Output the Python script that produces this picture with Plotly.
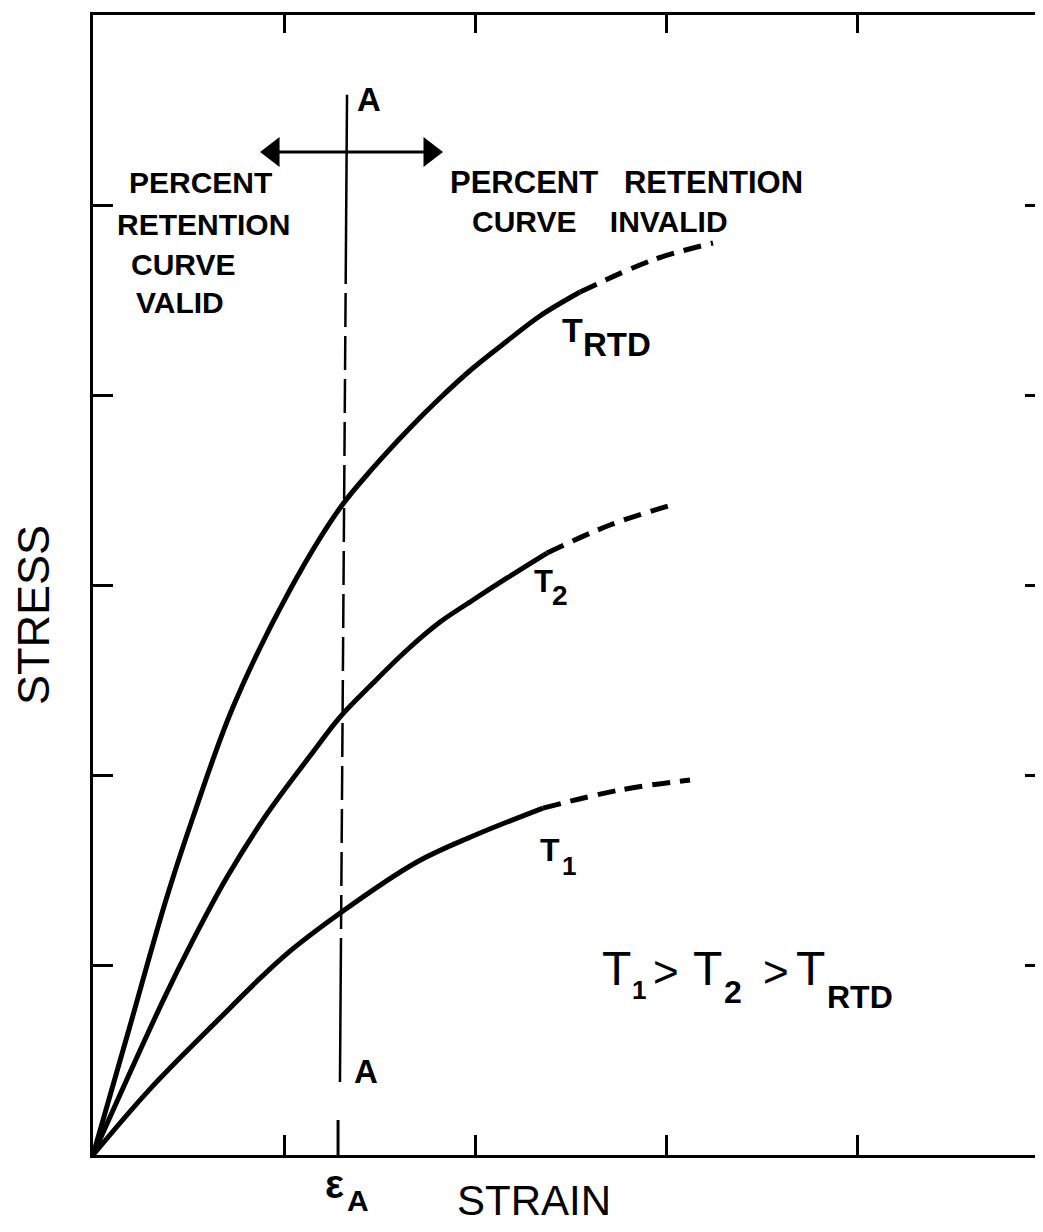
import plotly.graph_objects as go

# ---------------- data ----------------
# T_RTD curve: solid (valid) part and dashed extension
rtd_strain = [0.0, 0.183, 0.382, 0.524, 0.733, 1.031, 1.293, 1.466, 1.644, 1.817, 1.990, 2.168, 2.340, 2.550]
rtd_stress = [0.0, 0.642, 1.342, 1.779, 2.358, 2.974, 3.405, 3.616, 3.811, 3.984, 4.142, 4.284, 4.416, 4.542]
rtd_ext_strain = [2.550, 2.932, 3.246]
rtd_ext_stress = [4.542, 4.711, 4.800]

# T2 curve
t2_strain = [0.0, 0.366, 0.524, 0.702, 0.911, 1.136, 1.293, 1.466, 1.644, 1.817, 1.990, 2.168, 2.377]
t2_stress = [0.0, 0.811, 1.132, 1.463, 1.795, 2.100, 2.305, 2.484, 2.658, 2.805, 2.921, 3.037, 3.168]
t2_ext_strain = [2.377, 2.707, 3.031]
t2_ext_stress = [3.168, 3.316, 3.421]

# T1 curve
t1_strain = [0.0, 0.298, 0.628, 0.995, 1.309, 1.696, 1.990, 2.356]
t1_stress = [0.0, 0.347, 0.684, 1.042, 1.284, 1.542, 1.679, 1.826]
t1_ext_strain = [2.356, 2.759, 3.126]
t1_ext_stress = [1.826, 1.921, 1.974]

strain_ticks = [1, 2, 3, 4]
stress_ticks = [1, 2, 3, 4, 5]
eps_a = 1.283          # strain at line A-A
line_a_top = 5.58      # top end of line A-A (stress units)
line_a_bottom = 0.384  # bottom end of line A-A
arrow_ends = [0.864, 1.843]   # strain extent of the double arrow
arrow_level = 5.279           # stress level of the double arrow

# ---------------- figure ----------------
FONT = "Liberation Sans"
BLACK = "#000000"
X_MAX = 942 / 191
Y_MAX = 6.0
PX_PER_X = 191.0

fig = go.Figure()

def curve(xs, ys, dash=None):
    fig.add_trace(go.Scatter(
        x=xs, y=ys, mode="lines",
        line=dict(color=BLACK, width=5, shape="spline", smoothing=1.0,
                  dash=dash if dash else "solid"),
        hoverinfo="skip", showlegend=False))

curve(rtd_strain, rtd_stress)
curve(rtd_ext_strain, rtd_ext_stress, "18px,10px")
curve(t2_strain, t2_stress)
curve(t2_ext_strain, t2_ext_stress, "18px,10px")
curve(t1_strain, t1_stress)
curve(t1_ext_strain, t1_ext_stress, "18px,10px")

# dummy traces so the mirrored axes get drawn
fig.add_trace(go.Scatter(x=[None], y=[None], xaxis="x2", yaxis="y", showlegend=False))
fig.add_trace(go.Scatter(x=[None], y=[None], xaxis="x", yaxis="y2", showlegend=False))

# vertical line A-A : solid top, dashed middle, solid bottom (slightly tilted)
def ax_at(y):
    return eps_a + 0.047 - (line_a_top - y) * (0.037 / (line_a_top - line_a_bottom))

seg1 = 4.763
seg2 = 0.984
fig.add_shape(type="line", xref="x", yref="y", x0=ax_at(line_a_top), y0=line_a_top,
              x1=ax_at(seg1), y1=seg1, line=dict(color=BLACK, width=2.5))
fig.add_shape(type="line", xref="x", yref="y", x0=ax_at(seg1), y0=seg1,
              x1=ax_at(seg2), y1=seg2, line=dict(color=BLACK, width=2.5, dash="34px,9px"))
fig.add_shape(type="line", xref="x", yref="y", x0=ax_at(seg2), y0=seg2,
              x1=ax_at(line_a_bottom), y1=line_a_bottom, line=dict(color=BLACK, width=2.5))

# epsilon_A tick on the strain axis (longer than the others)
fig.add_shape(type="line", xref="x", yref="y", x0=eps_a, y0=0, x1=eps_a, y1=0.184,
              line=dict(color=BLACK, width=3))

# double headed arrow: shaft + triangle heads
HEAD = 26  # marker size in px
head_off = (HEAD / 2) * 2 / 3 ** 0.5 / PX_PER_X
fig.add_trace(go.Scatter(x=[arrow_ends[0] + head_off, arrow_ends[1] - head_off],
                         y=[arrow_level, arrow_level], mode="lines",
                         line=dict(color=BLACK, width=3), hoverinfo="skip", showlegend=False))
fig.add_trace(go.Scatter(x=[arrow_ends[0] + head_off, arrow_ends[1] - head_off],
                         y=[arrow_level, arrow_level], mode="markers",
                         marker=dict(symbol=["triangle-left", "triangle-right"], size=HEAD,
                                     color=BLACK, line=dict(width=0)),
                         hoverinfo="skip", showlegend=False))

def txt(x, y, s, size, bold=False, angle=0, paper=False):
    if paper:
        x, y, xr, yr = x / X_MAX, y / Y_MAX, "paper", "paper"
    else:
        xr, yr = "x", "y"
    fig.add_annotation(x=x, y=y, xref=xr, yref=yr, text=f"<b>{s}</b>" if bold else s,
                       showarrow=False, textangle=angle,
                       font=dict(family=FONT, size=size, color=BLACK),
                       xanchor="center", yanchor="middle")

NB = "\u00a0"
txt(1.445, 5.555, "A", 33, True)
txt(1.429, 0.437, "A", 33, True)

txt(0.565, 5.121, "PERCENT", 30, True)
txt(0.576, 4.900, "RETENTION", 30, True)
txt(0.471, 4.689, "CURVE", 30, True)
txt(0.455, 4.489, "VALID", 30, True)

txt(2.791, 5.121, f"PERCENT{NB*3}RETENTION", 31, True)
txt(2.655, 4.911, f"CURVE{NB*4}INVALID", 30, True)

# curve labels
txt(2.508, 4.342, "T", 34, True)
txt(2.743, 4.268, "RTD", 33, True)
txt(2.356, 3.016, "T", 31, True)
txt(2.445, 2.947, "2", 28, True)
txt(2.393, 1.605, "T", 32, True)
txt(2.492, 1.521, "1", 26, True)

# relation T1 > T2 > TRTD
txt(2.743, 0.979, "T", 48)
txt(2.858, 0.868, "1", 26, True)
txt(3.000, 0.968, "&gt;", 44)
txt(3.215, 0.979, "T", 48)
txt(3.351, 0.858, "2", 32, True)
txt(3.576, 0.968, "&gt;", 44)
txt(3.759, 0.979, "T", 48)
txt(4.016, 0.832, "RTD", 32, True)

# axis annotations (outside the plotting range -> paper coordinates)
txt(1.262, -0.150, "\u03b5", 40, True, paper=True)
txt(1.390, -0.240, "A", 30, True, paper=True)
txt(2.309, -0.237, "STRAIN", 42, paper=True)
txt(-0.314, 2.842, "STRESS", 45, angle=-90, paper=True)

xr = [0, X_MAX]
common_x = dict(range=xr, showgrid=False, zeroline=False, showticklabels=False,
                tickvals=strain_ticks, ticks="inside", tickcolor=BLACK, tickwidth=3,
                showline=True, linecolor=BLACK, linewidth=3)
common_y = dict(range=[0, Y_MAX], showgrid=False, zeroline=False, showticklabels=False,
                tickvals=stress_ticks, ticks="inside", tickcolor=BLACK, tickwidth=3)

# page body has an 8px margin: size the figure so the page is exactly 1043x1232
fig.update_layout(
    width=1027, height=1216,
    margin=dict(l=85, r=0, t=7, b=69),
    paper_bgcolor="white", plot_bgcolor="white",
    showlegend=False,
    xaxis=dict(**common_x, ticklen=20, anchor="y"),
    xaxis2=dict(**common_x, ticklen=18, side="top", overlaying="x", anchor="y"),
    yaxis=dict(**common_y, ticklen=20, showline=True, linecolor=BLACK, linewidth=3, anchor="x"),
    yaxis2=dict(**common_y, ticklen=10, showline=False, side="right", overlaying="y", anchor="x"),
)

fig.write_html("out.html")
